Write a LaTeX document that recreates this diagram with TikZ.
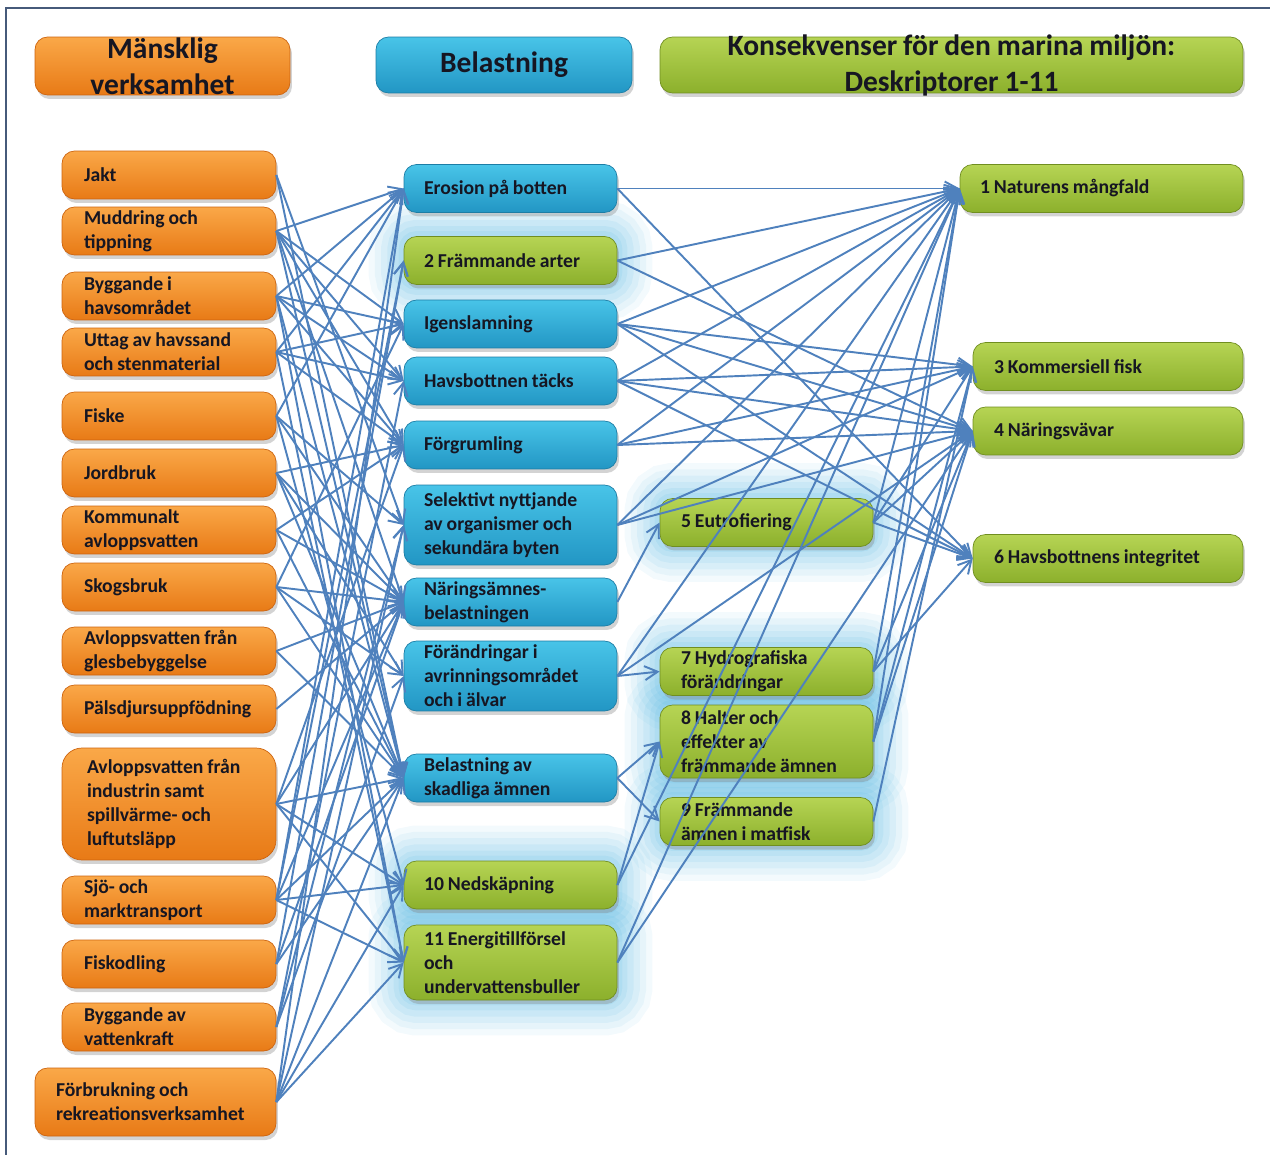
\documentclass[tikz,border=0pt]{standalone}
\usepackage{fontspec}
\setmainfont{Carlito}
\usetikzlibrary{arrows.meta,shadows,backgrounds}

\definecolor{acttop}{RGB}{250,168,72}
\definecolor{actbot}{RGB}{232,122,22}
\definecolor{actedge}{RGB}{205,100,15}
\definecolor{beltop}{RGB}{72,196,232}
\definecolor{belbot}{RGB}{34,150,196}
\definecolor{beledge}{RGB}{28,125,165}
\definecolor{kontop}{RGB}{182,212,84}
\definecolor{konbot}{RGB}{140,176,44}
\definecolor{konedge}{RGB}{112,142,32}
\definecolor{glowcol}{RGB}{80,180,224}
\definecolor{linkcol}{RGB}{79,129,189}
\definecolor{inkcol}{RGB}{22,22,34}
\definecolor{framecol}{RGB}{70,90,122}

\begin{document}
\begin{tikzpicture}[
  x=0.02cm, y=-0.02cm,
  font=\fontsize{11.2}{13.7}\selectfont\bfseries,
  >={Straight Barb[length=2.6mm,width=2.8mm]},
  box/.style={
    rounded corners=2.5mm, line width=0.4pt,
    align=left, inner ysep=0pt, minimum height=0.96cm,
    text=inkcol,
    execute at begin node={\hyphenpenalty=10000 \exhyphenpenalty=10000 \spaceskip=0.2em plus 0.05em },
    drop shadow={shadow xshift=0.4mm, shadow yshift=-0.8mm, opacity=0.35}
  },
  orangefill/.style={draw=actedge, top color=acttop, bottom color=actbot},
  bluefill/.style={draw=beledge, top color=beltop, bottom color=belbot},
  greenfill/.style={draw=konedge, top color=kontop, bottom color=konbot},
  hdr/.style={box, align=center, inner ysep=-0.08cm, minimum height=1.12cm,
    font=\fontsize{16.8}{20.5}\selectfont\bfseries},
  act/.style={box, orangefill, text width=3.40cm, inner xsep=0.44cm},
  bel/.style={box, bluefill, text width=3.46cm, inner xsep=0.40cm},
  belg/.style={box, greenfill, text width=3.46cm, inner xsep=0.40cm},
  desc/.style={box, greenfill, text width=3.42cm, inner xsep=0.42cm},
  goal/.style={box, greenfill, text width=4.56cm, inner xsep=0.42cm},
  glowfx/.style={rounded corners=2.5mm, line join=round,
    preaction={draw=glowcol, line width=1.4cm, opacity=0.07},
    preaction={draw=glowcol, line width=1.15cm, opacity=0.08},
    preaction={draw=glowcol, line width=0.9cm, opacity=0.09},
    preaction={draw=glowcol, line width=0.65cm, opacity=0.10},
    preaction={draw=glowcol, line width=0.4cm, opacity=0.11},
    preaction={draw=glowcol, line width=0.2cm, opacity=0.12}},
  link/.style={->, draw=linkcol, line width=1.1pt}
]
\useasboundingbox (0,0) rectangle (1270,1155);
\draw[framecol, line width=0.6pt] (6,1155) -- (6,8) -- (1270,8);

% Headers
\node[hdr, orangefill, minimum width=5.1cm, minimum height=1.16cm] (hman) at (162.5,66) {Mänsklig\\verksamhet};
\node[hdr, bluefill, minimum width=5.12cm] (hbel) at (504,65) {Belastning};
\node[hdr, greenfill, minimum width=11.66cm] (hkons) at (951.5,65) {Konsekvenser för den marina miljön:\\Deskriptorer 1-11};

% Human activities
\node[act] (jakt) at (169,175) {Jakt};
\node[act] (mudd) at (169,231) {Muddring och\\tippning};
\node[act] (bygg) at (169,296) {Byggande i\\havsområdet};
\node[act] (uttag) at (169,352) {Uttag av havssand\\och stenmaterial};
\node[act] (fiske) at (169,416) {Fiske};
\node[act] (jord) at (169,473) {Jordbruk};
\node[act] (komm) at (169,530) {Kommunalt\\avloppsvatten};
\node[act] (skog) at (169,587) {Skogsbruk};
\node[act] (glesb) at (169,651) {Avloppsvatten från\\glesbebyggelse};
\node[act] (pals) at (169,709) {Pälsdjursuppfödning};
\node[act, rounded corners=4mm, text width=3.28cm, inner xsep=0.5cm, minimum height=2.24cm] (indu) at (169,804)
  {Avloppsvatten från\\industrin samt\\spillvärme- och\\luftutsläpp};
\node[act] (sjo) at (169,900) {Sjö- och\\marktransport};
\node[act] (fiskod) at (169,964) {Fiskodling};
\node[act] (vattk) at (169,1027) {Byggande av\\vattenkraft};
\node[act, text width=3.98cm, inner xsep=0.42cm, minimum height=1.36cm] (forb) at (155.5,1102)
  {Förbrukning och\\rekreationsverksamhet};

% Pressures
\node[bel] (eros) at (510.5,188.5) {Erosion på botten};
\node[belg] (frarter) at (510.5,260.5) {2 Främmande arter};
\node[bel] (igen) at (510.5,324) {Igenslamning};
\node[bel] (tacks) at (510.5,381) {Havsbottnen täcks};
\node[bel] (forgr) at (510.5,445) {Förgrumling};
\node[bel, minimum height=1.6cm] (selekt) at (510.5,525) {Selektivt nyttjande\\av organismer och\\sekundära byten};
\node[bel] (naring) at (510.5,602) {Näringsämnes-\\belastningen};
\node[bel, minimum height=1.4cm] (avrin) at (510.5,676) {Förändringar i\\avrinningsområdet\\och i älvar};
\node[bel] (skadl) at (510.5,778) {Belastning av\\skadliga ämnen};
\node[belg] (nedsk) at (510.5,885) {10 Nedskäpning};
\node[belg, minimum height=1.5cm] (energi) at (510.5,962.5) {11 Energitillförsel\\och\\undervattensbuller};

% Descriptors, middle
\node[desc] (eutro) at (766.5,522.5) {5 Eutrofiering};
\node[desc] (hydro) at (766.5,671.5) {7 Hydrografiska\\förändringar};
\node[desc, minimum height=1.46cm] (halter) at (766.5,741.5) {8 Halter och\\effekter av\\främmande ämnen};
\node[desc] (matfisk) at (766.5,821.5) {9 Främmande\\ämnen i matfisk};

% Descriptors, right
\node[goal, text width=4.86cm, inner xsep=0.40cm] (mangf) at (1101.5,188.5) {1 Naturens mångfald};
\node[goal] (kommf) at (1108,366.5) {3 Kommersiell fisk};
\node[goal] (narv) at (1108,431) {4 Näringsvävar};
\node[goal] (integ) at (1108,558.5) {6 Havsbottnens integritet};

% Glow behind the green boxes
\begin{scope}[on background layer]
  \foreach \n in {frarter,nedsk,energi,eutro,hydro,halter,matfisk}
    \path[glowfx] (\n.south west) rectangle (\n.north east);
\end{scope}

% Activity -> pressure
\foreach \a/\b in {jakt/selekt, jakt/skadl,
  mudd/eros, mudd/igen, mudd/tacks, mudd/forgr, mudd/naring, mudd/skadl,
  bygg/eros, bygg/igen, bygg/tacks, bygg/forgr, bygg/skadl, bygg/energi,
  uttag/eros, uttag/igen, uttag/tacks, uttag/forgr, uttag/energi,
  fiske/eros, fiske/selekt, fiske/nedsk, fiske/naring,
  jord/forgr, jord/naring, jord/avrin, jord/skadl,
  komm/naring, komm/skadl, komm/forgr,
  skog/igen, skog/naring, skog/avrin, skog/skadl,
  glesb/naring, glesb/skadl,
  pals/naring,
  indu/naring, indu/skadl, indu/energi, indu/nedsk, indu/forgr,
  sjo/frarter, sjo/eros, sjo/skadl, sjo/nedsk, sjo/energi, sjo/naring,
  fiskod/frarter, fiskod/naring, fiskod/skadl,
  vattk/avrin, vattk/tacks, vattk/selekt,
  forb/skadl, forb/nedsk, forb/energi, forb/selekt, forb/eros}
  \draw[link] (\a.east) -- (\b.west);

% Pressure -> consequence
\foreach \a/\b in {eros/mangf, eros/integ,
  frarter/mangf, frarter/narv,
  igen/mangf, igen/kommf, igen/narv, igen/integ,
  tacks/mangf, tacks/kommf, tacks/narv, tacks/integ,
  forgr/mangf, forgr/narv, forgr/kommf,
  selekt/mangf, selekt/kommf, selekt/narv,
  naring/eutro,
  avrin/hydro, avrin/mangf, avrin/narv,
  skadl/halter, skadl/matfisk,
  nedsk/halter, nedsk/mangf,
  energi/mangf, energi/narv,
  eutro/mangf, eutro/narv, eutro/integ, eutro/kommf,
  hydro/mangf, hydro/narv, hydro/integ,
  halter/mangf, halter/kommf, halter/narv,
  matfisk/kommf}
  \draw[link] (\a.east) -- (\b.west);

\end{tikzpicture}
\end{document}
